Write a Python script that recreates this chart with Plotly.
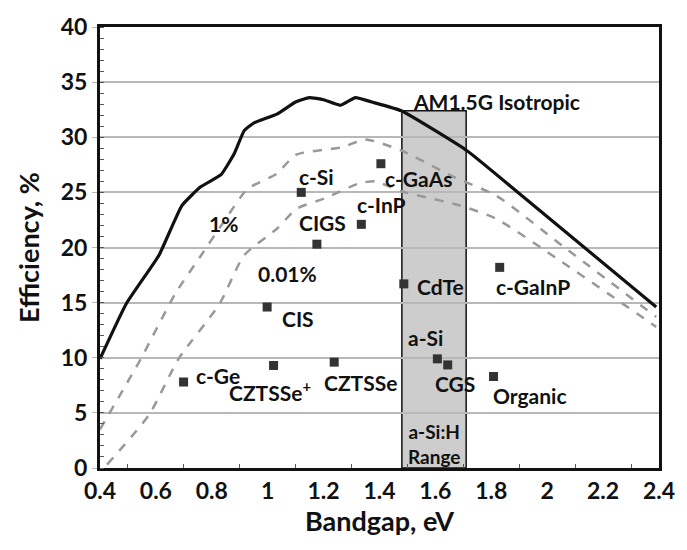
import plotly.graph_objects as go

# AM1.5G limit curve (solid)
am_x = [0.40, 0.494, 0.611, 0.693, 0.76, 0.833, 0.88, 0.916, 0.951, 1.033, 1.10, 1.149, 1.20, 1.26, 1.314, 1.372, 1.478, 1.712, 1.90, 2.39]
am_y = [9.9, 14.9, 19.3, 23.8, 25.5, 26.6, 28.5, 30.6, 31.3, 32.1, 33.2, 33.6, 33.4, 32.9, 33.6, 33.2, 32.4, 28.8, 24.9, 14.6]

# 1% curve (dashed)
p1_x = [0.40, 0.546, 0.669, 0.762, 0.85, 0.927, 1.033, 1.10, 1.267, 1.349, 1.478, 1.665, 1.818, 2.052, 2.39]
p1_y = [3.5, 9.9, 15.8, 19.3, 22.6, 25.3, 26.7, 28.4, 29.1, 29.8, 28.8, 26.4, 24.7, 20.2, 13.7]

# 0.01% curve (dashed)
p2_x = [0.425, 0.576, 0.681, 0.828, 0.916, 1.033, 1.103, 1.208, 1.325, 1.384, 1.478, 1.689, 1.818, 2.052, 2.39]
p2_y = [0.3, 4.85, 9.9, 14.9, 19.3, 21.7, 23.5, 24.5, 25.8, 26.0, 25.1, 23.8, 22.6, 18.7, 12.8]

# Cell records (markers)
cell_x = [1.12, 1.405, 1.335, 1.176, 0.699, 0.998, 1.021, 1.238, 1.487, 1.607, 1.644, 1.83, 1.808]
cell_y = [25.0, 27.6, 22.1, 20.3, 7.8, 14.6, 9.3, 9.6, 16.7, 9.9, 9.35, 18.2, 8.3]

# Text labels
lab_text = ["c-Si", "c-GaAs", "c-InP", "CIGS", "c-Ge", "CIS", "CZTSSe<sup>+</sup>", "CZTSSe",
            "CdTe", "a-Si", "CGS", "c-GaInP", "Organic", "1%", "0.01%"]
lab_x = [1.173, 1.542, 1.408, 1.197, 0.822, 1.11, 1.009, 1.331, 1.619, 1.563, 1.669, 1.949, 1.937, 0.842, 1.07]
lab_y = [26.4, 26.3, 23.9, 22.3, 8.4, 13.6, 7.0, 7.8, 16.5, 11.8, 7.65, 16.5, 6.6, 22.2, 17.6]

box_x0, box_x1, box_top = 1.48, 1.71, 32.4

FONT = "Lato"
INK = "#111111"
fig = go.Figure()

fig.add_trace(go.Scatter(x=p1_x, y=p1_y, mode="lines", line=dict(color="#999999", width=2.5, dash="dash", shape="spline", smoothing=0.6),
                         showlegend=False))
fig.add_trace(go.Scatter(x=p2_x, y=p2_y, mode="lines", line=dict(color="#999999", width=2.5, dash="dash", shape="spline", smoothing=0.6),
                         showlegend=False))
fig.add_trace(go.Scatter(x=am_x, y=am_y, mode="lines", line=dict(color=INK, width=3.2, shape="spline", smoothing=0.4),
                         showlegend=False))
fig.add_trace(go.Scatter(x=cell_x, y=cell_y, mode="markers",
                         marker=dict(symbol="square", size=9, color="#333333"), showlegend=False))

fig.add_shape(type="rect", x0=box_x0, x1=box_x1, y0=0, y1=box_top, layer="below",
              fillcolor="#cdcdcd", line=dict(color=INK, width=1.5))

for t, x, y in zip(lab_text, lab_x, lab_y):
    fig.add_annotation(x=x, y=y, text="<b>" + t + "</b>", showarrow=False,
                       font=dict(family=FONT, size=21, color=INK))

fig.add_annotation(x=1.513, y=33.2, text="<b>AM1.5G Isotropic</b>", showarrow=False, xanchor="left",
                   font=dict(family=FONT, size=21, color=INK))
fig.add_annotation(x=1.595, y=2.2, text="<b>a-Si:H<br>Range</b>", showarrow=False,
                   font=dict(family=FONT, size=19, color=INK))

fig.update_layout(
    width=687, height=550,
    margin=dict(l=100, r=18, t=17, b=82),
    plot_bgcolor="white", paper_bgcolor="white",
    font=dict(family=FONT, color=INK),
)
fig.update_xaxes(range=[0.4, 2.4], dtick=0.2, tick0=0.4, showgrid=False, zeroline=False,
                 showline=True, linecolor=INK, linewidth=3, mirror=True,
                 ticks="", tickfont=dict(family=FONT, size=23, color=INK, weight="bold"),
                 tickformat="~g",
                 minor=dict(ticks="inside", ticklen=4, dtick=0.1, tickcolor="#555"),
                 title=dict(text="<b>Bandgap, eV</b>", font=dict(family=FONT, size=27, color=INK), standoff=8))
fig.update_yaxes(range=[0, 40], dtick=5, showgrid=True, gridcolor="#b8b8b8", gridwidth=1.5, zeroline=False,
                 showline=True, linecolor=INK, linewidth=3, mirror=True,
                 ticks="outside", ticklen=5, tickcolor="#b8b8b8",
                 tickfont=dict(family=FONT, size=23, color=INK, weight="bold"),
                 minor=dict(ticks="inside", ticklen=4, dtick=1, tickcolor="#555"),
                 title=dict(text="<b>Efficiency, %</b>", font=dict(family=FONT, size=27, color=INK), standoff=14))

fig.write_html("out.html")
